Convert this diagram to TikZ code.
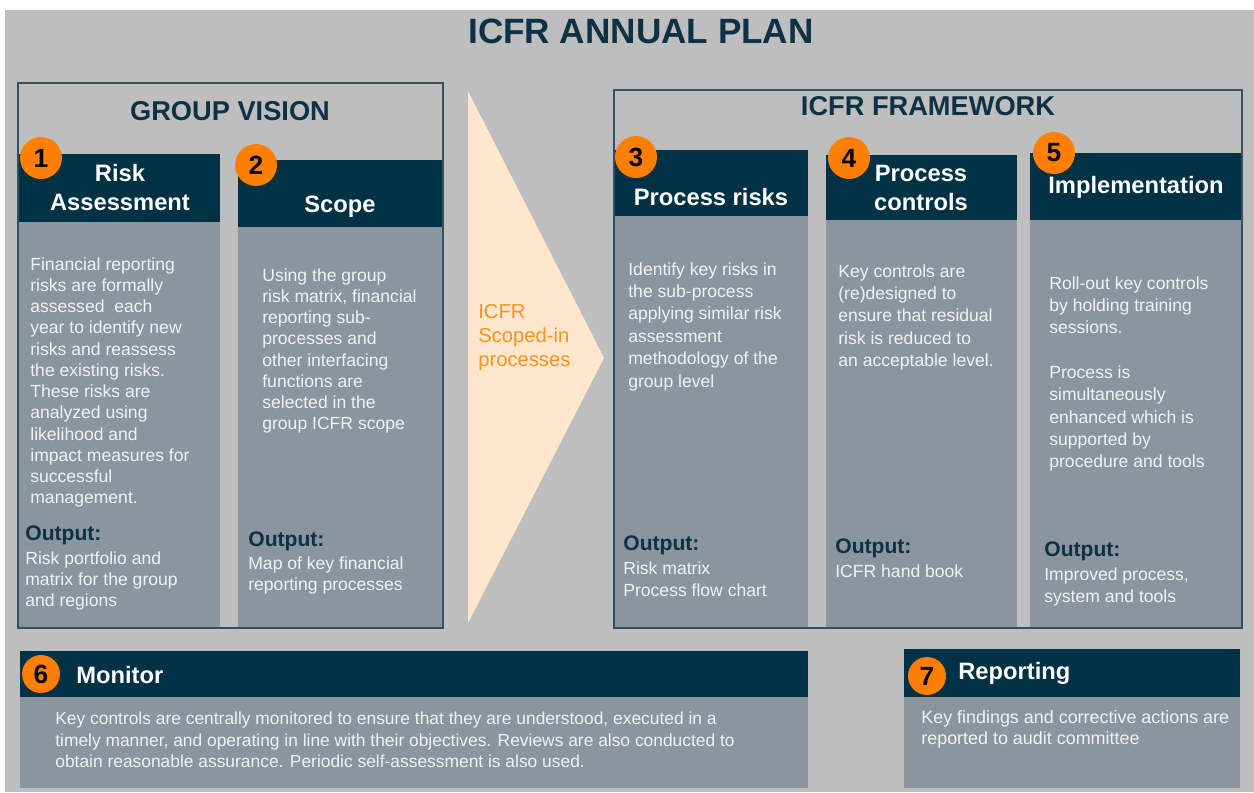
\documentclass[tikz,border=0pt]{standalone}
\usepackage{fontspec}
\setmainfont{Liberation Sans}
\usetikzlibrary{positioning}
\definecolor{bggray}{HTML}{BEBEBE}
\definecolor{navy}{HTML}{003145}
\definecolor{slate}{HTML}{8A959F}
\definecolor{framecol}{HTML}{2E5366}
\definecolor{badgeorange}{HTML}{FF8000}
\definecolor{peach}{HTML}{FFE6CC}
\definecolor{scopeorange}{HTML}{F7941D}
\definecolor{titlecol}{HTML}{0E3245}
\definecolor{paper}{HTML}{F2F2F2}
\tikzset{
  headbg/.style={fill=navy},
  bodybg/.style={fill=slate},
  frame/.style={draw=framecol, line width=0.85pt},
  numbadge/.style={circle, fill=badgeorange, inner sep=0pt, minimum size=0.84cm,
    text=black, font=\fontsize{15}{15}\selectfont\bfseries},
  headtext/.style={text=white, align=center, inner sep=0pt,
    font=\fontsize{13.5}{16.5}\selectfont\bfseries},
  bodytext/.style={text=paper, align=left, anchor=north west, inner sep=0pt,
    font=\fontsize{10}{12.1}\selectfont},
  widetext/.style={bodytext, font=\fontsize{10}{12.75}\selectfont},
  outlabel/.style={text=titlecol, anchor=west, inner sep=0pt,
    font=\fontsize{12}{14}\selectfont\bfseries},
  sectitle/.style={text=titlecol, font=\fontsize{15.5}{18}\selectfont\bfseries},
}
\begin{document}
\begin{tikzpicture}[x=0.02cm, y=-0.02cm]
  \useasboundingbox (0,0) rectangle (1254,792);
  \fill[white] (0,0) rectangle (1254,792);
  \fill[bggray] (5,10) rectangle (1254,792);
  \node[text=titlecol, font=\fontsize{20}{24}\selectfont\bfseries] (plan) at (641,31) {ICFR ANNUAL PLAN};

  % group vision
  \fill[headbg] (18,154) rectangle (220,222);
  \fill[bodybg] (18,222) rectangle (220,628);
  \fill[headbg] (238,160) rectangle (443,227);
  \fill[bodybg] (238,227) rectangle (443,628);
  \draw[frame] (18,83) rectangle (443,628);
  \node[sectitle] (vision) at (230,111) {GROUP VISION};

  \node[headtext] (risk) at (120,188) {Risk\\Assessment};
  \node[headtext] (scope) at (340,207) {Scope};
  \node[numbadge] (n1) at (41,158) {1};
  \node[numbadge] (n2) at (256,165) {2};

  \node[bodytext] (risktxt) at (30,257) {Financial reporting\\risks are formally\\assessed\ \ each\\year to identify new\\risks and reassess\\the existing risks.\\These risks are\\analyzed using\\likelihood and\\impact measures for\\successful\\management.};
  \node[outlabel] (riskout) at (25,535) {Output:};
  \node[bodytext] (riskres) at (25,551) {Risk portfolio and\\matrix for the group\\and regions};

  \node[bodytext] (scopetxt) at (262,268) {Using the group\\risk matrix, financial\\reporting sub-\\processes and\\other interfacing\\functions are\\selected in the\\group ICFR scope};
  \node[outlabel] (scopeout) at (248,541) {Output:};
  \node[bodytext] (scoperes) at (248,556) {Map of key financial\\reporting processes};

  % scoped-in arrow
  \fill[peach] (468,91) -- (604,358) -- (468,623) -- cycle;
  \node[bodytext, text=scopeorange, font=\fontsize{11.5}{13.6}\selectfont] (scoped) at (478,304) {ICFR\\Scoped-in\\processes};

  % icfr framework
  \fill[headbg] (614,150) rectangle (808,216);
  \fill[bodybg] (614,216) rectangle (808,628);
  \fill[headbg] (826,155) rectangle (1017,220);
  \fill[bodybg] (826,220) rectangle (1017,628);
  \fill[headbg] (1030,153) rectangle (1242,220);
  \fill[bodybg] (1030,220) rectangle (1242,628);
  \draw[frame] (614,90) rectangle (1242,628);
  \node[sectitle] (framework) at (928,106) {ICFR FRAMEWORK};

  \node[headtext] (prisk) at (711,197) {Process risks};
  \node[headtext] (pctrl) at (921,188) {Process\\controls};
  \node[headtext] (impl) at (1136,187) {Implementation};
  \node[numbadge] (n3) at (636,157) {3};
  \node[numbadge] (n4) at (849,158) {4};
  \node[numbadge] (n5) at (1054,153) {5};

  \node[widetext] (prisktxt) at (628,262) {Identify key risks in\\the sub-process\\applying similar risk\\assessment\\methodology of the\\group level};
  \node[outlabel] (priskout) at (623,545) {Output:};
  \node[widetext] (priskres) at (623,561) {Risk matrix\\Process flow chart};

  \node[widetext] (pctrltxt) at (838,264) {Key controls are\\(re)designed to\\ensure that residual\\risk is reduced to\\an acceptable level.};
  \node[outlabel] (pctrlout) at (835,548) {Output:};
  \node[widetext] (pctrlres) at (835,564) {ICFR hand book};

  \node[widetext] (impltxt) at (1049,276) {Roll-out key controls\\by holding training\\sessions.\\[12.5pt]Process is\\simultaneously\\enhanced which is\\supported by\\procedure and tools};
  \node[outlabel] (implout) at (1044,551) {Output:};
  \node[widetext] (implres) at (1044,567) {Improved process,\\system and tools};

  % monitor and reporting
  \fill[headbg] (20,651) rectangle (808,697);
  \fill[bodybg] (20,697) rectangle (808,788);
  \node[numbadge, minimum size=0.76cm] (n6) at (41,674) {6};
  \node[headtext, anchor=west] (monitor) at (76,675) {Monitor};
  \node[bodytext, font=\fontsize{9.9}{12}\selectfont] (monitortxt) at (55,712) {Key controls are centrally monitored to ensure that they are understood, executed in a\\timely manner, and operating in line with their objectives. Reviews are also conducted to\\obtain reasonable assurance. Periodic self-assessment is also used.};

  \fill[headbg] (904,649) rectangle (1240,697);
  \fill[bodybg] (904,697) rectangle (1240,788);
  \node[numbadge, minimum size=0.76cm] (n7) at (927,676) {7};
  \node[headtext, anchor=west] (report) at (958,673) {Reporting};
  \node[bodytext, font=\fontsize{10.2}{12}\selectfont] (reporttxt) at (921,710) {Key findings and corrective actions are\\reported to audit committee};
\end{tikzpicture}
\end{document}
